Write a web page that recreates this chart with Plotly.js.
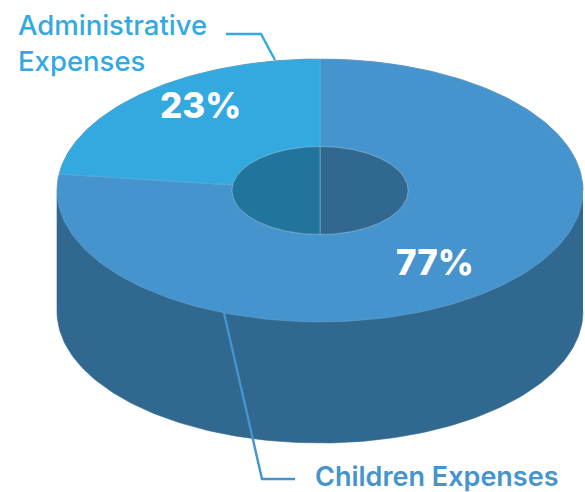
<!DOCTYPE html>
<html><head><meta charset="utf-8">
<script src="https://cdn.plot.ly/plotly-3.0.1.min.js"></script>
<style>html,body{margin:0;padding:0;background:#fff}#c{width:585px;height:492px}</style>
</head><body><div id="c"></div>
<script>
const categories = ["Children Expenses", "Administrative<br>Expenses"];
const shares = [77, 23];
const shareLabels = ["77%", "23%"];
const topColors = ["#4594CE", "#33A9DF"];
const wallColor = "#30688F";
const innerWallColors = ["#30688F", "#21759D"];

const cx = 320, cy = 190.5, rx = 263, ry = 131.5, hx = 88, hy = 44, depth = 121;
const N = 160;
function pt(deg, a, b, dy) {
  const r = deg * Math.PI / 180;
  return [cx + a * Math.sin(r), cy - b * Math.cos(r) + (dy || 0)];
}
function arc(from, to, a, b, dy) {
  const out = [];
  for (let i = 0; i <= N; i++) out.push(pt(from + (to - from) * i / N, a, b, dy));
  return out;
}
function poly(points, fill, line, lineWidth) {
  return {
    type: "scatter", mode: "lines", x: points.map(p => p[0]), y: points.map(p => p[1]),
    fill: "toself", fillcolor: fill, hoverinfo: "skip", showlegend: false,
    line: {color: line || fill, width: lineWidth === undefined ? 0.6 : lineWidth}
  };
}
const traces = [];
// outer wall
traces.push(poly(arc(90, 270, rx, ry, depth).concat(arc(270, 450, rx, ry, 0)), wallColor));
// slices, clockwise from 12 o'clock
let start = 0;
const total = shares.reduce((a, b) => a + b, 0);
const edge = "rgba(170,208,235,0.4)";
shares.forEach((s, i) => {
  const end = start + 360 * s / total;
  traces.push(poly(arc(start, end, rx, ry).concat(arc(end, start, hx, hy)).concat([pt(start, rx, ry)]), topColors[i], edge, 0.6));
  start = end;
});
// inner wall of the hole
traces.push(poly(arc(0, 180, hx, hy).concat([pt(0, hx, hy)]), innerWallColors[0], "rgba(200,222,238,0.6)", 0.6));
traces.push(poly(arc(180, 360, hx, hy).concat([pt(180, hx, hy)]), innerWallColors[1], "rgba(200,222,238,0.6)", 0.6));

const ff = "Inter, Lato, sans-serif";
const annotations = [
  {x: 17, y: 43, text: categories[1], xanchor: "left", align: "left", font: {family: ff, size: 27.5, color: topColors[1], weight: 500}},
  {x: 314, y: 476, text: categories[0], xanchor: "left", font: {family: ff, size: 27, color: topColors[0], weight: 600}},
  {x: 200, y: 105, text: shareLabels[1], font: {family: ff, size: 35, color: "#fff", weight: 800}},
  {x: 435, y: 262, text: shareLabels[0], font: {family: ff, size: 35, color: "#fff", weight: 800}}
].map(a => Object.assign({showarrow: false, xref: "x", yref: "y", borderpad: 0}, a));

const shapes = [
  {type: "path", path: "M226,34 L261,34 L275,60", line: {color: topColors[1], width: 2.4}},
  {type: "path", path: "M224,313 L262,479 L295,479", line: {color: topColors[0], width: 2.4}}
].map(s => Object.assign({xref: "x", yref: "y", layer: "above"}, s));

Plotly.newPlot("c", traces, {
  width: 585, height: 492, margin: {l: 0, r: 0, t: 0, b: 0},
  paper_bgcolor: "#fff", plot_bgcolor: "#fff", showlegend: false,
  xaxis: {range: [0, 585], visible: false, fixedrange: true},
  yaxis: {range: [492, 0], visible: false, fixedrange: true},
  annotations, shapes
}, {displayModeBar: false, staticPlot: true});
</script></body></html>
